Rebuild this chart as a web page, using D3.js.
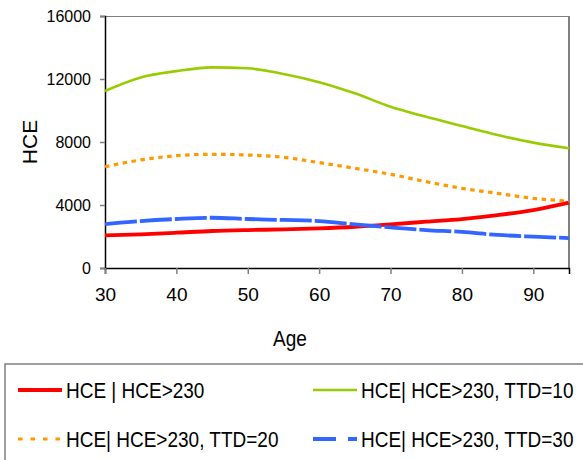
<!DOCTYPE html>
<html><head><meta charset="utf-8">
<script src="https://cdn.jsdelivr.net/npm/d3@7"></script>
<style>body{margin:0;background:#fff}svg{display:block}text{font-family:"Liberation Sans",Arial,sans-serif;fill:#000}</style>
</head><body><svg id="c" width="583" height="460"></svg>
<script>
const ages=[30,35,40,45,50,55,60,65,70,75,80,85,90,95];
const hceAll=[2070,2140,2240,2350,2410,2450,2520,2620,2770,2940,3110,3360,3680,4150];
const ttd10=[11240,12100,12500,12740,12680,12320,11800,11090,10240,9600,9020,8440,7960,7600];
const ttd20=[6430,6860,7130,7220,7170,7030,6690,6330,5950,5480,5060,4740,4420,4250];
const ttd30=[2790,2980,3110,3190,3110,3050,2980,2770,2580,2410,2290,2100,1990,1900];
const yTicks=[0,4000,8000,12000,16000];
const xTicks=[30,40,50,60,70,80,90];
const seriesNames=["HCE | HCE>230","HCE| HCE>230, TTD=10","HCE| HCE>230, TTD=20","HCE| HCE>230, TTD=30"];

const svg=d3.select("#c");
const L=105,R=569,T=16,B=268;
const x=d3.scaleLinear().domain([30,95]).range([L,R]);
const y=d3.scaleLinear().domain([0,16000]).range([B,T]);

// frame
svg.append("line").attr("x1",L).attr("x2",R).attr("y1",T+0.5).attr("y2",T+0.5).attr("stroke","#808080").attr("stroke-width",1.2);
svg.append("line").attr("x1",R).attr("x2",R).attr("y1",T).attr("y2",B).attr("stroke","#808080").attr("stroke-width",2);

// y axis
const ya=svg.append("g").attr("transform",`translate(${L},0)`).call(d3.axisLeft(y).tickValues(yTicks).tickSize(5).tickPadding(9).tickFormat(d3.format("d")));
ya.select(".domain").attr("stroke","#000").attr("stroke-width",1.5);
ya.selectAll(".tick line").attr("stroke","#808080").attr("stroke-width",1.5);
ya.selectAll(".tick text").attr("font-size",16).attr("font-family","Liberation Sans, Arial, sans-serif");
// x axis
const xa=svg.append("g").attr("transform",`translate(0,${B})`).call(d3.axisBottom(x).tickValues(xTicks).tickSize(6).tickPadding(14).tickFormat(d3.format("d")));
xa.select(".domain").attr("stroke","#000").attr("stroke-width",1.5);
xa.selectAll(".tick line").attr("stroke","#808080").attr("stroke-width",1.5);
xa.selectAll(".tick text").attr("font-size",19).attr("font-family","Liberation Sans, Arial, sans-serif");

svg.append("text").attr("transform","translate(290,346) scale(1,1.12)").attr("text-anchor","middle").attr("font-size",19).text("Age");
svg.append("text").attr("transform","translate(37,142) rotate(-90)").attr("text-anchor","middle").attr("font-size",21).text("HCE");

const styles=[
 {data:hceAll,color:"#FF0000",w:3.8,dash:null,ldash:null},
 {data:ttd10,color:"#99CC00",w:2.6,dash:null,ldash:null},
 {data:ttd20,color:"#FF9900",w:3.2,dash:"4.5,4.5",ldash:"4.5,8"},
 {data:ttd30,color:"#3366FF",w:3.8,dash:"32,3",ldash:"23,12"}
];
const line=d3.line().x(d=>x(d[0])).y(d=>y(d[1])).curve(d3.curveMonotoneX);
styles.forEach(s=>{
  svg.append("path").datum(ages.map((a,i)=>[a,s.data[i]])).attr("d",line)
   .attr("fill","none").attr("stroke",s.color).attr("stroke-width",s.w)
   .attr("stroke-dasharray",s.dash);
});

// legend
svg.append("rect").attr("x",5).attr("y",364).attr("width",600).attr("height",120).attr("fill","none").attr("stroke","#808080").attr("stroke-width",1.5);
const pos=[[18,390],[313,390],[18,439],[313,439]];
styles.forEach((s,i)=>{
  const [lx,ly]=pos[i];
  svg.append("line").attr("x1",lx).attr("x2",lx+44).attr("y1",ly).attr("y2",ly)
   .attr("stroke",s.color).attr("stroke-width",s.w).attr("stroke-dasharray",s.ldash);
  svg.append("text").attr("transform",`translate(${lx+48},${ly+8}) scale(1,1.2)`).attr("font-size",19).text(seriesNames[i]);
});
</script></body></html>
